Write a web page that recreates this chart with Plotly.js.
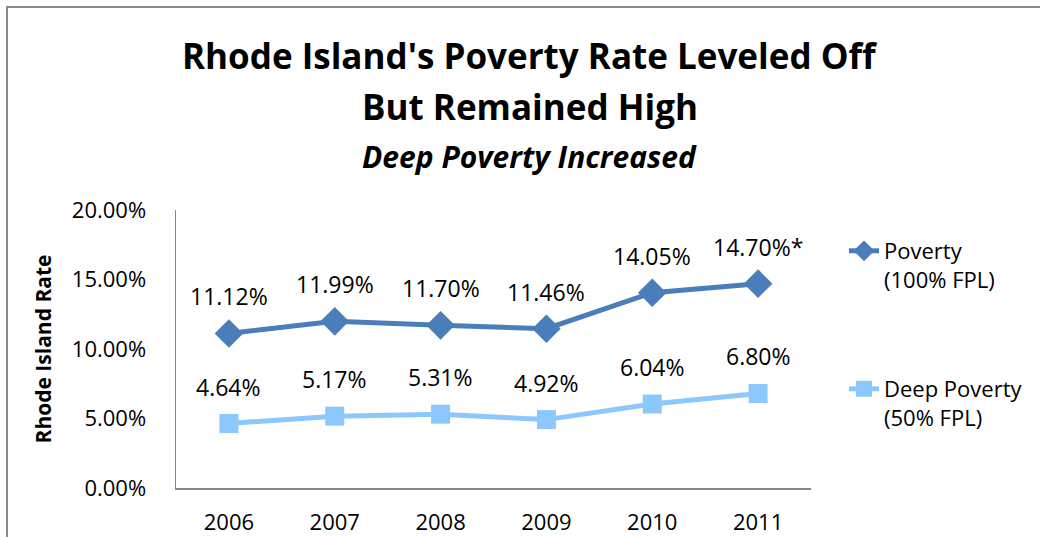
<!DOCTYPE html>
<html>
<head>
<meta charset="utf-8">
<script src="https://cdn.plot.ly/plotly-3.0.1.min.js"></script>
<style>
html,body{margin:0;padding:0;background:#fff;}
#wrap{position:relative;width:1040px;height:537px;}
#chart{width:1040px;height:537px;}
#frame{position:absolute;left:6px;top:6px;right:0;bottom:-5px;border-left:2px solid #8a8a8a;border-top:2px solid #8a8a8a;pointer-events:none;}
</style>
</head>
<body>
<div id="wrap"><div id="chart"></div><div id="frame"></div></div>
<script>
var years = ['2006','2007','2008','2009','2010','2011'];
var poverty = [11.12, 11.99, 11.70, 11.46, 14.05, 14.70];
var deepPoverty = [4.64, 5.17, 5.31, 4.92, 6.04, 6.80];
var povertyLabels = ['11.12%','11.99%','11.70%','11.46%','14.05%','14.70%*'];
var deepLabels = ['4.64%','5.17%','5.31%','4.92%','6.04%','6.80%'];
var yTicks = [0, 5, 10, 15, 20];
var yTickText = ['0.00%','5.00%','10.00%','15.00%','20.00%'];

var FONT = 'Open Sans, sans-serif';
var povColor = '#4a7ebb';
var deepColor = '#8dc8fd';

var traces = [
  {x: years, y: poverty, type: 'scatter', mode: 'lines+markers', name: 'Poverty<br>(100% FPL)',
   line: {color: povColor, width: 5}, marker: {symbol: 'diamond', size: 22, color: povColor},
   legend: 'legend', hoverinfo: 'skip'},
  {x: years, y: deepPoverty, type: 'scatter', mode: 'lines+markers', name: 'Deep Poverty<br>(50% FPL)',
   line: {color: deepColor, width: 5}, marker: {symbol: 'square', size: 19, color: deepColor},
   legend: 'legend2', hoverinfo: 'skip'}
];

var annotations = [];
function addLabels(vals, labels) {
  for (var i = 0; i < years.length; i++) {
    annotations.push({x: i, y: vals[i], xref: 'x', yref: 'y', text: labels[i],
      showarrow: false, yshift: 37, yanchor: 'middle', xanchor: 'center',
      font: {family: FONT, size: 23, color: '#000'}});
  }
}
addLabels(poverty, povertyLabels);
addLabels(deepPoverty, deepLabels);

var titleLines = [
  {text: "<b>Rhode Island's Poverty Rate Leveled Off</b>", py: 56, size: 35},
  {text: "<b>But Remained High</b>", py: 106, size: 35},
  {text: "<b><i>Deep Poverty Increased</i></b>", py: 156, size: 30}
];
var plotTop = 210, plotBottom = 488, plotLeft = 176, plotRight = 813;
titleLines.forEach(function(t) {
  annotations.push({xref: 'paper', yref: 'paper',
    x: (531 - plotLeft) / (plotRight - plotLeft),
    y: (plotBottom - t.py) / (plotBottom - plotTop),
    xanchor: 'center', yanchor: 'middle', showarrow: false, text: t.text,
    font: {family: FONT, size: t.size, color: '#000'}});
});

var legendCommon = {
  font: {family: FONT, size: 22, color: '#000'},
  bgcolor: 'rgba(0,0,0,0)', borderwidth: 0, valign: 'top',
  xanchor: 'left', yanchor: 'top', x: 1.052
};

var layout = {
  width: 1040, height: 537,
  margin: {l: plotLeft, r: 1040 - plotRight, t: plotTop, b: 537 - plotBottom, pad: 0},
  paper_bgcolor: '#fff', plot_bgcolor: '#fff',
  showlegend: true,
  legend: Object.assign({}, legendCommon, {y: (plotBottom - 230) / (plotBottom - plotTop)}),
  legend2: Object.assign({}, legendCommon, {y: (plotBottom - 368) / (plotBottom - plotTop)}),
  xaxis: {type: 'category', range: [-0.5, 5.5], showgrid: false, zeroline: false,
    showline: true, linecolor: '#868686', linewidth: 1.5, ticks: '',
    tickfont: {family: FONT, size: 22, color: '#000'}, ticklabelstandoff: 14, fixedrange: true},
  yaxis: {range: [0, 20], tickvals: yTicks, ticktext: yTickText, showgrid: false, zeroline: false,
    showline: true, linecolor: '#868686', linewidth: 1.5, ticks: '',
    tickfont: {family: FONT, size: 22, color: '#000'}, ticklabelstandoff: 24,
    title: {text: '<b>Rhode Island Rate</b>', font: {family: FONT, size: 21, color: '#000'}, standoff: 14},
    fixedrange: true},
  annotations: annotations
};

Plotly.newPlot('chart', traces, layout, {displayModeBar: false, staticPlot: true});
</script>
</body>
</html>
